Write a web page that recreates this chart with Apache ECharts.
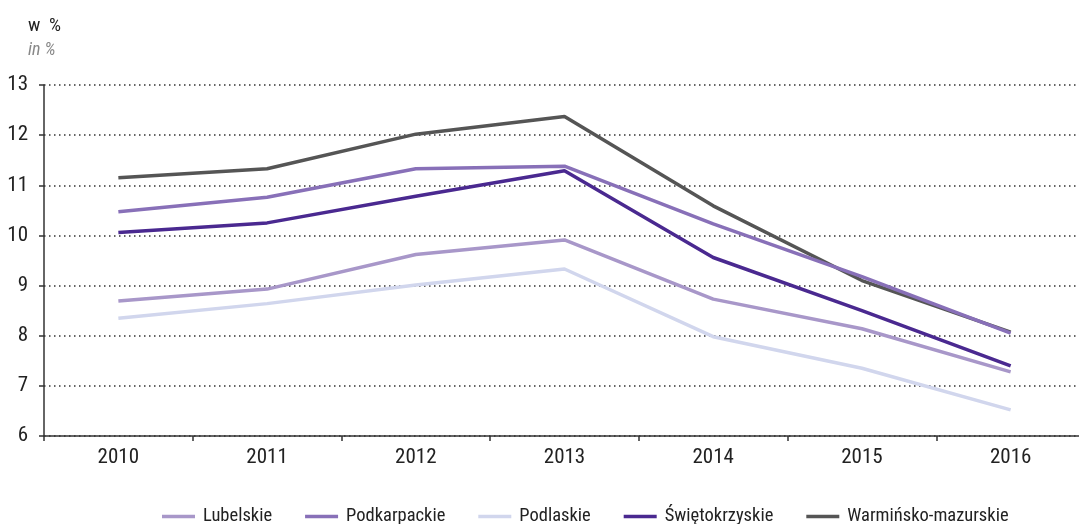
<!DOCTYPE html>
<html>
<head>
<meta charset="utf-8">
<script src="https://cdn.jsdelivr.net/npm/echarts@6/dist/echarts.min.js"></script>
<style>
  html, body { margin: 0; padding: 0; background: #fff; }
  #chart { width: 1079px; height: 524px; }
</style>
</head>
<body>
<div id="chart"></div>
<script>
var years = ['2010', '2011', '2012', '2013', '2014', '2015', '2016'];

var lubelskie = [8.69, 8.93, 9.62, 9.91, 8.73, 8.14, 7.28];
var podkarpackie = [10.47, 10.76, 11.33, 11.38, 10.23, 9.18, 8.05];
var podlaskie = [8.35, 8.64, 9.01, 9.33, 7.98, 7.35, 6.52];
var swietokrzyskie = [10.06, 10.25, 10.78, 11.29, 9.56, 8.50, 7.40];
var warminsko = [11.15, 11.33, 12.02, 12.37, 10.59, 9.10, 8.07];

var seriesNames = ['Lubelskie', 'Podkarpackie', 'Podlaskie', 'Świętokrzyskie', 'Warmińsko-mazurskie'];
var seriesData = [lubelskie, podkarpackie, podlaskie, swietokrzyskie, warminsko];
var colors = ['#a897c9', '#8870b8', '#d1d6ed', '#4a2990', '#555555'];

var font = '"Roboto Condensed", "DejaVu Sans Condensed", sans-serif';

var myChart = echarts.init(document.getElementById('chart'));

var series = seriesNames.map(function (name, i) {
    return {
        name: name,
        type: 'line',
        data: seriesData[i],
        symbol: 'none',
        lineStyle: { width: 3.5, color: colors[i] },
        itemStyle: { color: colors[i] },
        z: 10 - i
    };
});

option = {
    animation: false,
    color: colors,
    textStyle: { fontFamily: font },
    graphic: [
        {
            type: 'text', left: 28, top: 17,
            style: { text: 'w  %', font: '19px ' + font, fill: '#222' }
        },
        {
            type: 'text', left: 28, top: 41,
            style: { text: 'in %', font: 'italic 18px ' + font, fill: '#888' }
        }
    ],
    legend: {
        top: 502,
        left: 157,
        itemWidth: 33,
        itemHeight: 3.5,
        itemGap: 33,
        icon: 'rect',
        textStyle: { fontFamily: font, fontSize: 18.5, color: '#222', padding: [0, 0, 0, 3] },
        data: seriesNames
    },
    grid: {
        left: 44,
        right: -6,
        top: 85,
        bottom: 88,
        outerBoundsMode: 'none',
        containLabel: false
    },
    xAxis: {
        type: 'category',
        data: years,
        boundaryGap: true,
        axisLine: { lineStyle: { color: '#333', width: 1.5 } },
        axisTick: { show: true, length: 5, lineStyle: { color: '#333', width: 1.5 } },
        axisLabel: { fontFamily: font, fontSize: 21, color: '#222', margin: 11 }
    },
    yAxis: {
        type: 'value',
        min: 6,
        max: 13,
        interval: 1,
        axisLine: { show: true, lineStyle: { color: '#333', width: 1.5 } },
        axisTick: { show: true, length: 5, lineStyle: { color: '#333', width: 1.5 } },
        axisLabel: { fontFamily: font, fontSize: 21, color: '#222', margin: 16 },
        splitLine: { show: true, lineStyle: { color: '#333', type: [1.5, 3.5], width: 1.5 } }
    },
    series: series
};

myChart.setOption(option);
</script>
</body>
</html>
